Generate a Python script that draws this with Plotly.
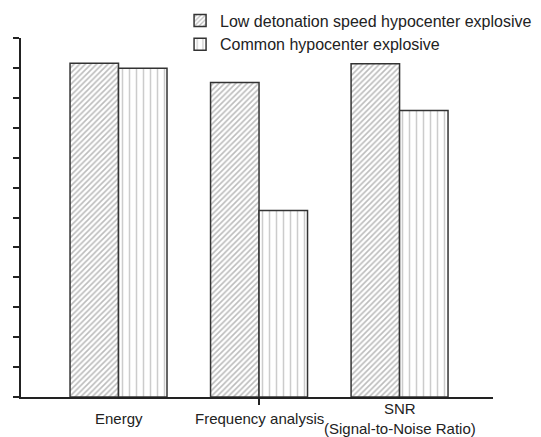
import plotly.graph_objects as go

categories = ["Energy", "Frequency analysis", "SNR<br>(Signal-to-Noise Ratio)"]
series_names = ["Low detonation speed hypocenter explosive", "Common hypocenter explosive"]
low_speed = [11.16, 10.51, 11.14]
common = [10.99, 6.23, 9.58]
y_ticks = list(range(0, 13))

x_pos = list(range(len(categories)))

# page body adds ~8px offset; compensate in size/margins
fig = go.Figure()
fig.add_trace(go.Bar(
    x=x_pos, y=low_speed, name=series_names[0],
    marker=dict(color="white", line=dict(color="#333333", width=1.5),
                pattern=dict(shape="/", size=4, solidity=0.4, fgcolor="#7a7a7a", bgcolor="white")),
))
fig.add_trace(go.Bar(
    x=x_pos, y=common, name=series_names[1],
    marker=dict(color="white", line=dict(color="#333333", width=1.5),
                pattern=dict(shape="|", size=7, solidity=0.22, fgcolor="#999999", bgcolor="white")),
))

for i, label in enumerate(categories):
    fig.add_annotation(
        x=x_pos[i], y=0, xref="x", yref="y", text=label, showarrow=False,
        xanchor="center", yanchor="middle", yshift=-21,
        font=dict(size=15, color="#222222"),
    )

fig.update_layout(
    width=533, height=429,
    margin=dict(l=13, r=48, t=30, b=40, autoexpand=False),
    paper_bgcolor="white", plot_bgcolor="white",
    barmode="group", bargap=0.31, bargroupgap=0,
    font=dict(family="Liberation Sans, Arial, sans-serif", size=15, color="#222222"),
    showlegend=True,
    legend=dict(x=0.337, y=1.096, xanchor="left", yanchor="top",
                bgcolor="rgba(0,0,0,0)", font=dict(size=16, color="#222222"),
                tracegroupgap=0, itemwidth=30),
)
fig.update_xaxes(
    range=[-0.694, 2.665], tickvals=x_pos, showticklabels=False,
    automargin=False,
    showline=True, linecolor="#222222", linewidth=1.5, ticks="",
    showgrid=False, zeroline=False,
    minor=dict(tick0=1, dtick=1.7, ticks="outside", ticklen=6, tickcolor="#222222", tickwidth=1.5),
)
fig.update_yaxes(
    range=[0, 12], tickvals=y_ticks, showticklabels=False, automargin=False,
    ticks="outside", ticklen=6, tickcolor="#222222", tickwidth=1.5,
    showline=True, linecolor="#222222", linewidth=1.5,
    showgrid=False, zeroline=False,
)

fig.write_html("out.html")
